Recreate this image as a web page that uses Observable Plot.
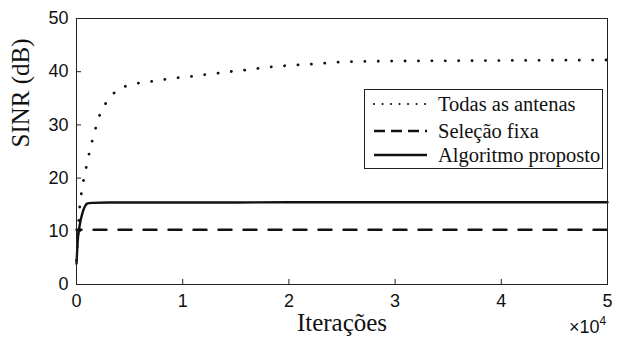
<!DOCTYPE html>
<html>
<head>
<meta charset="utf-8">
<script src="https://cdn.jsdelivr.net/npm/d3@7"></script>
<script src="https://cdn.jsdelivr.net/npm/@observablehq/plot@0.6"></script>
<style>
  html, body { margin: 0; padding: 0; background: #fff; }
  #wrap { position: relative; width: 618px; height: 345px; overflow: hidden; }
  #legend { position: absolute; left: 364px; top: 89px; width: 237px; height: 78px;
    border: 1px solid #222; background: #fff; box-sizing: content-box;
    font-family: "Liberation Serif", "Times New Roman", serif; font-size: 20.5px; color: #111; }
  .row { position: absolute; left: 0; height: 24px; display: flex; align-items: center; }
  .row svg { margin-left: 8px; margin-right: 10px; }
  #exp { position: absolute; left: 569px; top: 315px; font-family: "Liberation Sans", Arial, sans-serif;
    font-size: 18px; color: #111; }
  #exp sup { font-size: 12px; position: relative; top: -1px; }
</style>
</head>
<body>
<div id="wrap"></div>
<script>
// ---- data (x in units of 10^4 iterations, y in dB) ----
const xTicks = [0, 1, 2, 3, 4, 5];
const yTicks = [0, 10, 20, 30, 40, 50];

const seriesNames = ["Todas as antenas", "Seleção fixa", "Algoritmo proposto"];

const xTodas = [0, 0.022, 0.031, 0.047, 0.069, 0.097, 0.122, 0.153, 0.188, 0.229, 0.295, 0.383, 0.502, 0.624, 0.753, 0.879, 1.005, 1.13, 1.26, 1.38, 1.51, 1.64, 1.764, 1.89, 2.015, 2.147, 2.276, 2.40, 2.526, 2.652, 3.0, 3.5, 4.0, 4.5, 5.0];
const yTodas = [4.5, 12.2, 14.7, 17.3, 19.9, 22.5, 24.9, 27.4, 29.9, 32.4, 34.6, 36.5, 37.5, 38.0, 38.3, 38.7, 39.0, 39.2, 39.6, 39.8, 40.2, 40.4, 40.8, 41.0, 41.2, 41.35, 41.5, 41.7, 41.85, 41.9, 42.0, 42.05, 42.1, 42.15, 42.2];

const xFixa = [0, 5];
const yFixa = [10.3, 10.3];

const xProposto = [0, 0.012, 0.025, 0.038, 0.05, 0.063, 0.08, 0.1, 0.12, 0.15, 0.3, 1, 2, 3, 4, 5];
const yProposto = [3.9, 8.3, 10.5, 12.0, 13.0, 13.9, 14.7, 15.2, 15.3, 15.35, 15.4, 15.4, 15.45, 15.45, 15.45, 15.45];

const toRows = (xs, ys) => xs.map((x, i) => ({x, y: ys[i]}));
const todas = toRows(xTodas, yTodas);
const fixa = toRows(xFixa, yFixa);
const proposto = toRows(xProposto, yProposto);

const sans = "'Liberation Sans', Arial, sans-serif";
const serif = "'Liberation Serif', 'Times New Roman', serif";

const chart = Plot.plot({
  width: 618,
  height: 345,
  marginLeft: 76,
  marginRight: 11,
  marginTop: 18,
  marginBottom: 61,
  style: {background: "#fff", color: "#111"},
  x: {domain: [0, 5]},
  y: {domain: [0, 50]},
  marks: [
    Plot.axisX({ticks: xTicks, tickFormat: d => String(d), tickSize: -5, tickPadding: 15, fontSize: 18, fontFamily: sans, label: null, stroke: "#222", fill: "#111"}),
    Plot.axisY({ticks: yTicks, tickFormat: d => String(d), tickSize: -5, tickPadding: 13, fontSize: 18, fontFamily: sans, label: null, stroke: "#222", fill: "#111"}),
    Plot.line(fixa, {x: "x", y: "y", stroke: "#111", strokeWidth: 2.4, strokeDasharray: "13,12", strokeDashoffset: 8}),
    Plot.line(proposto, {x: "x", y: "y", stroke: "#111", strokeWidth: 2.4, curve: "monotone-x"}),
    Plot.line(todas, {x: "x", y: "y", stroke: "#111", strokeWidth: 2.8, strokeDasharray: "0.1,13.3", strokeLinecap: "round", curve: "monotone-x"}),
    Plot.frame({stroke: "#222", strokeWidth: 1}),
    Plot.text(["Iterações"], {frameAnchor: "bottom", dy: 46, lineAnchor: "bottom", fontSize: 25, fontFamily: serif, fill: "#111"}),
    Plot.text(["SINR (dB)"], {frameAnchor: "left", dx: -56, dy: -4, rotate: -90, fontSize: 25, fontFamily: serif, fill: "#111"})
  ]
});

const wrap = document.getElementById("wrap");
wrap.appendChild(chart);

// legend (decorative overlay)
const legend = document.createElement("div");
legend.id = "legend";
const rowTops = [2, 29, 53];
const dashes = ["0.1,8.4", "11,6", null];
seriesNames.forEach((name, i) => {
  const row = document.createElement("div");
  row.className = "row";
  row.style.top = rowTops[i] + "px";
  const s = d3.create("svg").attr("width", 55).attr("height", 10);
  s.append("line").attr("x1", 1).attr("x2", 54).attr("y1", 5).attr("y2", 5)
    .attr("stroke", "#111").attr("stroke-width", i === 0 ? 2 : 2.4)
    .attr("stroke-linecap", i === 0 ? "round" : "butt")
    .attr("stroke-dasharray", dashes[i]);
  row.appendChild(s.node());
  const t = document.createElement("span");
  t.textContent = name;
  row.appendChild(t);
  legend.appendChild(row);
});
wrap.appendChild(legend);

const exp = document.createElement("div");
exp.id = "exp";
exp.innerHTML = "×10<sup>4</sup>";
wrap.appendChild(exp);
</script>
</body>
</html>
